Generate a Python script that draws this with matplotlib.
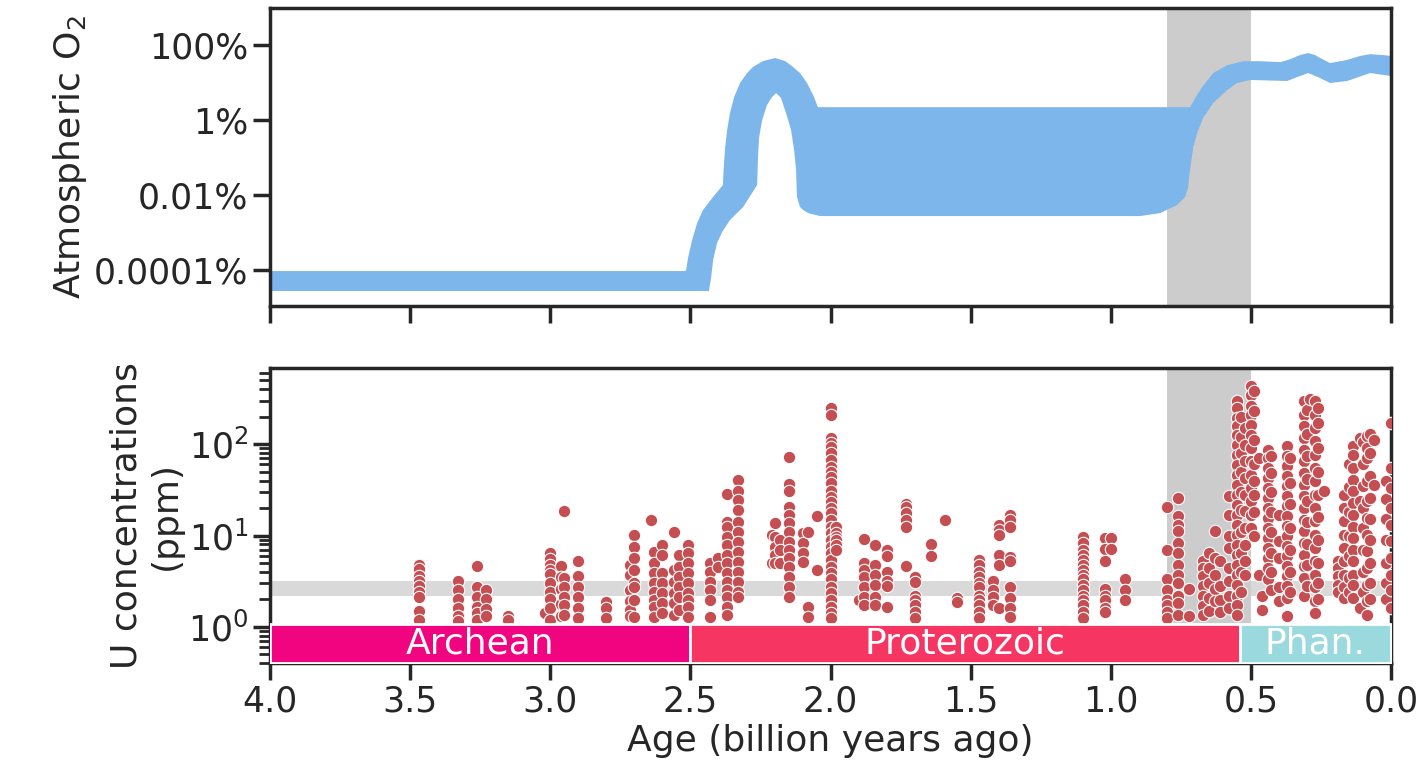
import numpy as np
import matplotlib.pyplot as plt
from matplotlib.ticker import FixedLocator, NullLocator

# style close to seaborn "ticks" + poster context
plt.rcParams['font.family'] = ['DejaVu Sans']
for k in ['text.color', 'axes.labelcolor', 'axes.edgecolor', 'xtick.color', 'ytick.color']:
    plt.rcParams[k] = '#262626'
plt.rcParams['axes.linewidth'] = 2.5
for t in ['xtick', 'ytick']:
    plt.rcParams[t + '.major.width'] = 2.5
    plt.rcParams[t + '.major.size'] = 12
    plt.rcParams[t + '.minor.width'] = 2
    plt.rcParams[t + '.minor.size'] = 8
    plt.rcParams[t + '.labelsize'] = 25
plt.rcParams['axes.labelsize'] = 26

# ---- atmospheric O2 envelope (percent of atmosphere) ----
o2_up_age = [4.0, 2.516, 2.508, 2.494, 2.476, 2.455, 2.419, 2.384, 2.383, 2.380, 2.376,
             2.369, 2.359, 2.344, 2.323, 2.298, 2.277, 2.241, 2.198, 2.162, 2.134,
             2.109, 2.084, 2.062, 2.045, 0.717, 0.699, 0.674, 0.635, 0.585, 0.528,
             0.467, 0.396, 0.368, 0.350, 0.325, 0.296, 0.271, 0.253, 0.218, 0.157,
             0.111, 0.075, 0.029, 0.0]
o2_up = [9.4e-5, 9.4e-5, 2.2e-4, 6.3e-4, 1.8e-3, 4.0e-3, 8.9e-3, 0.0185, 0.030, 0.0713, 0.19,
         0.54, 1.54, 4.1, 9.7, 17.9, 26, 37.4, 45, 37.4, 26,
         17.9, 9.7, 4.6, 2.2, 2.2, 3.9, 7.6, 17.9, 29, 37,
         37, 35, 40, 45, 54, 61, 54, 45, 33, 40,
         51, 57, 54, 51]
o2_lo_age = [4.0, 2.434, 2.426, 2.419, 2.405, 2.387, 2.359, 2.312, 2.262, 2.261, 2.259,
             2.255, 2.244, 2.227, 2.209, 2.194, 2.177, 2.159, 2.141, 2.130, 2.123,
             2.120, 2.109, 2.098, 2.080, 2.037, 0.896, 0.824, 0.764, 0.735, 0.724,
             0.721, 0.714, 0.706, 0.692, 0.671, 0.635, 0.585, 0.550, 0.503, 0.371,
             0.335, 0.296, 0.261, 0.218, 0.157, 0.075, 0.0]
o2_lo = [2.75e-5, 2.75e-5, 6.5e-5, 1.85e-4, 5.25e-4, 1.03e-3, 2.15e-3, 4.8e-3, 0.0185, 0.030, 0.103,
         0.35, 1.0, 2.5, 4.1, 5.2, 3.9, 1.54, 0.54, 0.158, 0.046,
         8.9e-3, 4.8e-3, 4.0e-3, 3.3e-3, 2.75e-3, 2.75e-3, 3.3e-3, 5.4e-3, 8.9e-3, 0.0163,
         0.030, 0.0713, 0.19, 0.45, 1.13, 2.84, 6.3, 9.7, 11.7, 11,
         14, 17.9, 14, 9.7, 11, 17.9, 14.9]

o2_ticks = [100, 1, 0.01, 0.0001]
o2_ticklabels = ['100%', '1%', '0.01%', '0.0001%']

# ---- U concentrations (ppm), one list of values per sampled age ----
archean_age = [3.47, 3.33, 3.26, 3.23, 3.15, 3.02, 3.00, 2.96, 2.95, 2.90, 2.80,
               2.715, 2.70, 2.64, 2.63, 2.60, 2.56, 2.54, 2.51]
archean_ppm = [
    [4.8, 4.3, 3.6, 3.2, 2.8, 2.4, 2.1, 1.5, 1.2],
    [3.2, 2.5, 2.0, 1.6, 1.3, 1.15],
    [4.6, 2.7, 2.1, 1.65, 1.4, 1.2],
    [2.5, 2.0, 1.55, 1.3],
    [1.32, 1.2],
    [1.4],
    [6.4, 5.6, 4.8, 4.2, 3.8, 3.0, 2.4, 2.0, 1.6, 1.2],
    [4.6, 3.5, 2.6, 1.8, 1.3],
    [18.5, 3.4, 2.7, 2.1, 1.74, 1.35],
    [5.3, 3.6, 2.7, 2.1, 1.6, 1.25],
    [1.87, 1.6, 1.25],
    [4.8, 3.7, 2.5, 1.9, 1.53, 1.3],
    [10.1, 7.5, 5.7, 4.2, 3.0, 2.7, 1.97, 1.29],
    [14.7],
    [6.6, 5.0, 3.9, 3.0, 2.4, 1.97, 1.65, 1.29],
    [7.9, 6.1, 3.9, 3.0, 2.35, 1.83, 1.42],
    [10.9, 4.2, 3.1, 2.35, 1.83, 1.35],
    [6.1, 4.5, 3.5, 2.7, 2.1, 1.53],
    [7.9, 6.4, 5.0, 3.9, 3.0, 2.35, 1.97, 1.65, 1.29],
]

proterozoic_age = [2.43, 2.40, 2.37, 2.33, 2.21, 2.20, 2.18, 2.15, 2.10, 2.08, 2.05,
                   2.00, 1.98, 1.90, 1.88, 1.84, 1.80, 1.73, 1.70, 1.64, 1.59, 1.55,
                   1.47, 1.42, 1.40, 1.36, 1.10, 1.02, 1.00, 0.95, 0.80, 0.76, 0.72,
                   0.67, 0.65, 0.63, 0.61, 0.58]
proterozoic_ppm = [
    [5.0, 4.0, 3.1, 2.5, 1.97, 1.29],
    [5.7, 4.5],
    [28.4, 14.0, 12.4, 9.6, 7.9, 6.1, 5.0, 3.9, 3.1, 2.5, 2.1, 1.65, 1.35],
    [41, 31, 24.4, 19, 14, 10.9, 8.5, 6.6, 5.1, 4.0, 3.1, 2.4, 2.1],
    [10.1, 5.0],
    [13.7, 9.6, 7.5, 6.1, 5.0],
    [8.9, 6.9, 5.0],
    [72, 37, 31, 20.4, 16.8, 13.7, 10.9, 8.5, 6.9, 5.7, 4.5, 3.5, 2.7, 2.1],
    [10.6, 8.3, 6.4, 5.1],
    [10.9, 1.65, 1.29],
    [16.3, 4.2],
    [247, 208, 116, 102, 92.7, 79.7, 67, 56, 49.4, 43.6, 37.5, 31, 26.3, 23.2, 20, 17.6,
     14.8, 12.4, 10.6, 8.9, 7.5, 6.4, 5.4, 4.5, 3.9, 3.3, 2.7, 2.35, 1.97, 1.65, 1.42, 1.25],
    [12.4, 10.6, 9.6, 8.9, 7.9, 6.9],
    [1.97],
    [9.1, 5.0, 4.2, 3.5, 2.7, 2.1, 1.74],
    [7.9, 4.8, 3.7, 2.9, 2.1, 1.74],
    [6.9, 6.0, 4.0, 3.2, 2.8, 1.65],
    [22, 20.4, 17.6, 14.8, 12.4, 4.6],
    [3.5, 3.1, 2.2, 1.97, 1.74, 1.47, 1.25],
    [8.1, 6.0],
    [14.7],
    [2.07, 1.87],
    [5.4, 4.8, 4.0, 3.5, 3.0, 2.7, 2.2, 1.97, 1.74, 1.47, 1.25],
    [3.2, 2.5, 2.1, 1.74],
    [13, 11.5, 10.1, 6.1, 4.8, 1.6],
    [16.8, 14.8, 12.4, 5.8, 5.3, 2.7, 2.07, 1.6, 1.29],
    [9.6, 8.3, 6.9, 6.1, 5.4, 4.8, 4.2, 3.7, 3.3, 2.9, 2.5, 2.2, 1.97, 1.74, 1.47, 1.25],
    [9.4, 7.2, 5.2, 2.6, 2.2, 1.97, 1.6, 1.45],
    [9.4, 7.2],
    [3.3, 2.5, 1.97],
    [20.4, 6.9, 3.3, 2.5, 1.97, 1.74, 1.45, 1.25],
    [25.6, 16.3, 13, 11.2, 8.3, 6.4, 4.8, 3.7, 3.0, 2.2, 1.83, 1.35],
    [2.6, 1.32],
    [5.3, 4.4, 3.6, 2.8, 2.2, 1.7, 1.35],
    [6.4, 4.4, 3.0, 2.07, 1.5],
    [11.2, 5.7, 3.7, 2.6, 1.9],
    [5.3, 2.8, 1.97, 1.45],
    [27, 16.8, 9.9, 7.3, 4.4, 3.2, 2.2, 1.6],
]

phanerozoic_age = [0.55, 0.535, 0.52, 0.50, 0.49, 0.47, 0.46, 0.44, 0.43, 0.40, 0.37,
                   0.36, 0.31, 0.30, 0.29, 0.27, 0.26, 0.24, 0.19, 0.17, 0.15, 0.135,
                   0.11, 0.10, 0.085, 0.075, 0.06, 0.02, 0.0]
phanerozoic_ppm = [
    [300, 247, 192, 157, 125, 98, 76, 59, 46, 36, 27.7, 21.5, 16.8, 13, 10.1, 7.9, 6.1,
     4.8, 3.7, 2.9, 2.2, 1.74, 1.35],
    [200, 120, 80, 50, 30, 19, 11, 6.5, 4.0, 2.4],
    [150, 98, 65, 42.4, 27.7, 18.5, 12, 7.9, 5.3, 3.7],
    [440, 345, 265, 208, 161, 125, 90, 65, 46, 33, 23.8, 16.8, 12],
    [380, 230, 110, 60, 40, 28, 18, 10],
    [70, 3.7],
    [2.2, 1.53],
    [86, 70, 55, 42.4, 33, 25.6, 20, 15.5, 12, 9.4, 7.3, 5.7, 4.4, 3.3],
    [75, 48, 30, 18, 11, 6.5, 4.0, 2.5],
    [16.8, 8.7, 5.7, 2.7, 1.9],
    [95, 74, 57.6, 44.8, 34.8, 27, 21, 16.3, 12.7, 9.9, 7.7, 6.0, 4.6, 3.6, 2.8, 2.07, 1.32],
    [70, 38, 22, 12, 7, 4, 2.4],
    [295, 208, 157, 116, 86, 65, 48, 36, 27, 20, 14.8, 11.2, 8.3, 6.1, 4.6, 3.4, 2.2],
    [240, 130, 75, 42, 24, 14, 8, 4.8, 2.8],
    [317],
    [300, 208, 150, 108, 76, 55, 39.5, 27.7, 20, 14.4, 10.1, 7.3, 5.3, 3.7, 2.7, 1.9, 1.42],
    [250, 170, 90, 50, 28, 16, 9, 5, 3, 2.0],
    [30.5],
    [5.3, 4.4, 3.6, 2.9, 2.4],
    [27.7, 20, 14.4, 10.1, 7.3, 5.3, 3.7, 2.7, 2.07],
    [60, 34, 18, 10, 6, 3.4, 2.4],
    [95, 76, 55, 41, 30.5, 22.5, 16.8, 12.5, 9.4, 7.0, 5.3, 3.7, 2.9, 2.07],
    [116, 23.8, 1.6],
    [105, 60, 35, 20, 12, 7, 4, 2.4],
    [122, 90, 70, 39.5, 23.8, 15.5, 10.1, 6.8, 4.4, 2.9, 1.9, 1.35],
    [130, 80, 45, 26, 15, 9, 5, 3, 2.0],
    [111, 36],
    [40, 25, 15, 9, 5, 3, 2],
    [170, 55, 33, 20, 13, 8.7, 5.7, 3.7, 2.5, 1.6],
]

# geologic eons
era_names = ['Archean', 'Proterozoic', 'Phan.']
era_start = [4.0, 2.5, 0.541]
era_end = [2.5, 0.541, 0.0]
era_colors = ['#F0047F', '#F73563', '#9AD9DD']

# Neoproterozoic oxygenation window and crustal U range
noe_window = (0.8, 0.5)
crust_u = (2.2, 3.2)

u_age, u_ppm = [], []
for ages, vals in [(archean_age, archean_ppm), (proterozoic_age, proterozoic_ppm),
                   (phanerozoic_age, phanerozoic_ppm)]:
    for a, v in zip(ages, vals):
        u_age += [a] * len(v)
        u_ppm += v

fig = plt.figure(figsize=(14.21, 7.64), dpi=100)
ax1 = fig.add_axes([0.190, 0.5995, 0.789, 0.390])
ax2 = fig.add_axes([0.190, 0.132, 0.789, 0.386])

# top panel
ax1.axvspan(noe_window[0], noe_window[1], color='#cccccc', lw=0, zorder=0)
ax1.fill(o2_up_age + o2_lo_age[::-1], o2_up + o2_lo[::-1], color='#7cb6eb', lw=0, zorder=2)
ax1.set_yscale('log')
ax1.set_ylim(1.1e-5, 970)
ax1.set_xlim(4.0, 0.0)
ax1.yaxis.set_major_locator(FixedLocator(o2_ticks))
ax1.set_yticklabels(o2_ticklabels)
ax1.yaxis.set_minor_locator(NullLocator())
ax1.set_xticks(np.arange(0, 4.01, 0.5))
ax1.tick_params(axis='x', labelbottom=False)
ax1.set_ylabel('Atmospheric O$_2$')

# bottom panel
ax2.axhspan(crust_u[0], crust_u[1], color='#d9d9d9', lw=0, zorder=0)
ax2.axvspan(noe_window[0], noe_window[1], color='#cccccc', lw=0, zorder=1)
ax2.scatter(u_age, u_ppm, s=80, color='#c44e52', edgecolor='white', linewidth=0.8, zorder=3)
ax2.set_yscale('log')
ax2.set_ylim(0.4, 680)
ax2.set_xlim(4.0, 0.0)
for name, a0, a1, c in zip(era_names, era_start, era_end, era_colors):
    ax2.fill_between([a0, a1], 0.4, 1.07, color=c, edgecolor='white', linewidth=2, zorder=5)
    ax2.text((a0 + a1) / 2, 0.655, name, color='white', fontsize=26,
             ha='center', va='center', zorder=6)
ax2.set_xticks(np.arange(0, 4.01, 0.5))
ax2.set_xticklabels(['%.1f' % v for v in np.arange(0, 4.01, 0.5)])
ax2.set_xlabel('Age (billion years ago)')
ax2.set_ylabel('U concentrations\n(ppm)')

fig.align_ylabels([ax1, ax2])
fig.savefig('out.png', dpi=100)
